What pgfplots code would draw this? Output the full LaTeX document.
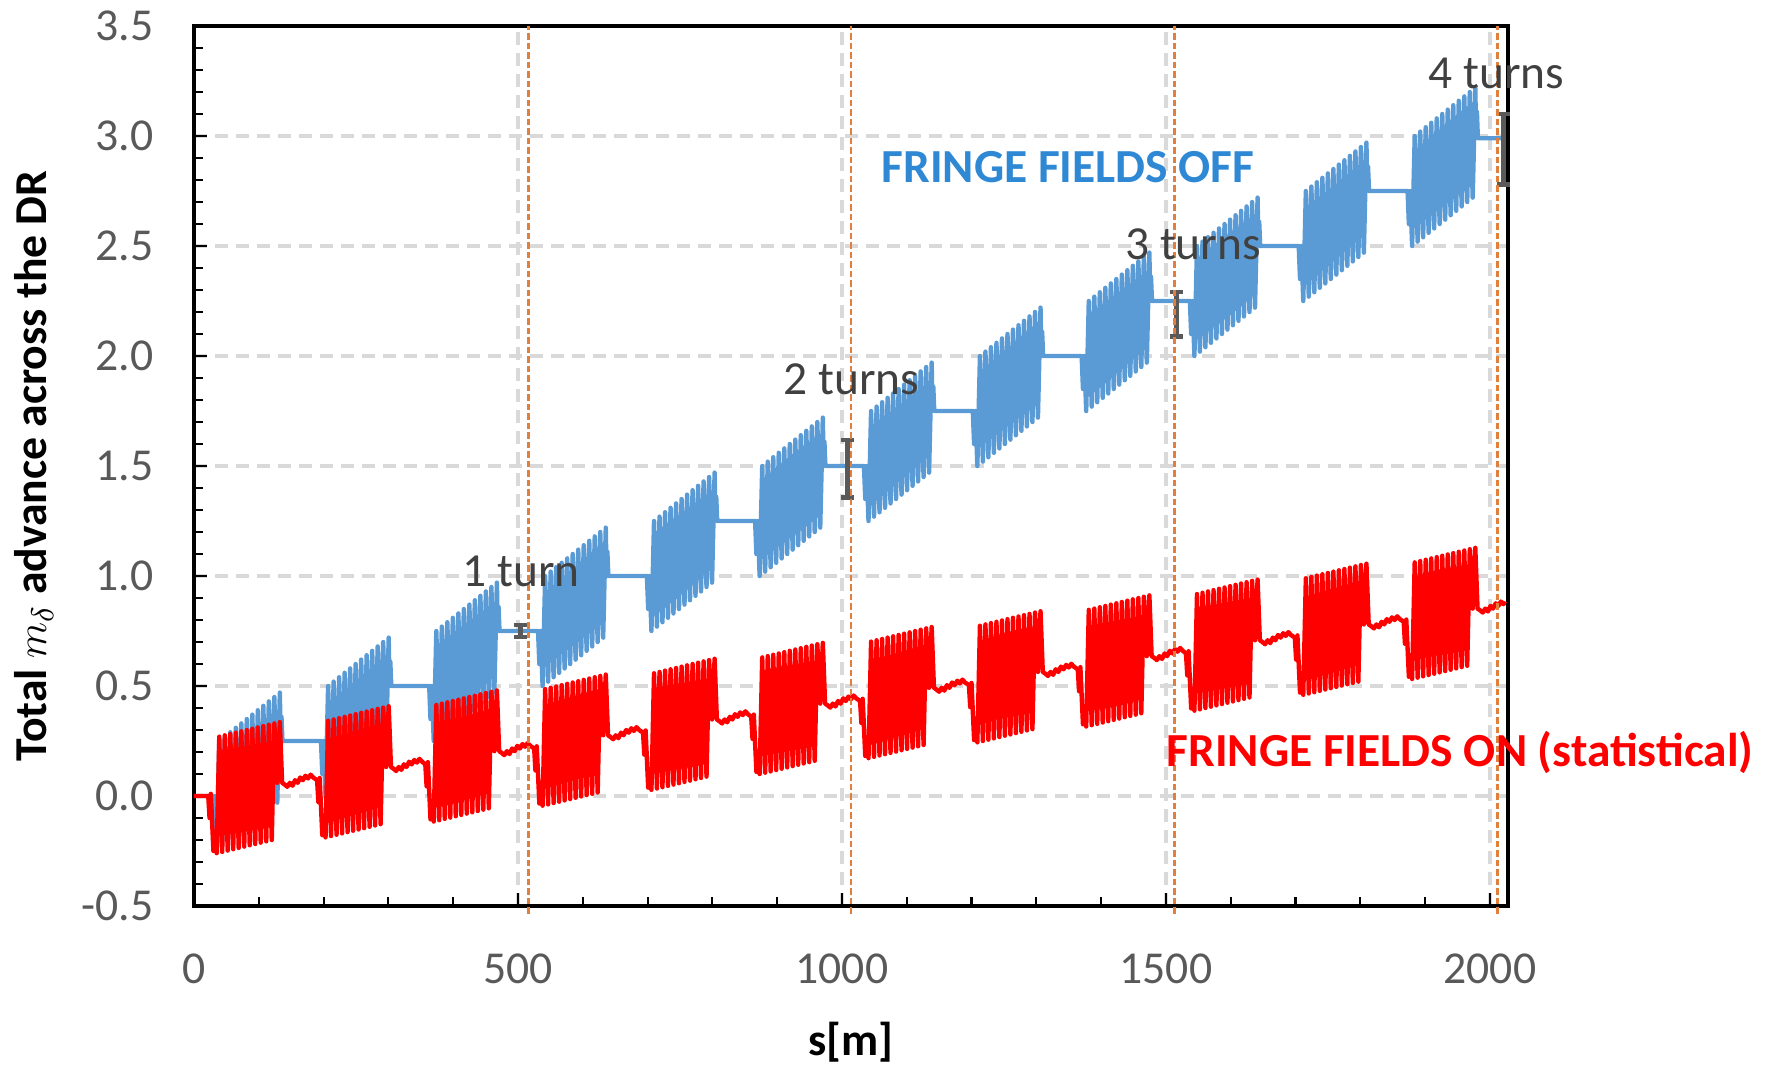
\documentclass[border=0pt]{standalone}
\usepackage{fontspec}
\setmainfont{Carlito}
\usepackage{pgfplots}
\pgfplotsset{compat=1.18}
\definecolor{offblue}{HTML}{5B9BD5}
\definecolor{offtext}{HTML}{2F88D4}
\definecolor{onred}{HTML}{FF0000}
\definecolor{gridgray}{HTML}{D9D9D9}
\definecolor{ticktext}{HTML}{595959}
\definecolor{annot}{HTML}{404040}
\definecolor{turnline}{HTML}{E0803C}
\definecolor{errgray}{HTML}{595959}

\begin{document}
\begin{tikzpicture}
\useasboundingbox (-1.94,-1.61) rectangle (15.73,9.06);
\begin{axis}[
  at={(0,0)}, anchor=south west,
  scale only axis, width=13.14cm, height=8.80cm,
  xmin=0, xmax=2028, ymin=-0.5, ymax=3.5,
  xtick={0,500,1000,1500,2000},
  xticklabels={0,500,1000,1500,2000},
  ytick={-0.5,0,0.5,1,1.5,2,2.5,3,3.5},
  yticklabels={-0.5,0.0,0.5,1.0,1.5,2.0,2.5,3.0,3.5},
  minor x tick num=4, minor y tick num=4,
  tick align=inside, tick pos=left,
  major tick length=0.13cm, minor tick length=0.09cm,
  every tick/.style={black, line width=0.6pt},
  axis line style={black, line width=1.1pt},
  grid=major,
  major grid style={gridgray, line width=1.3pt, dash pattern=on 0.13cm off 0.08cm},
  tick label style={font=\fontsize{13}{15}\selectfont, text=ticktext},
  yticklabel style={xshift=-0.28cm},
  xticklabel style={yshift=-0.35cm},
  xlabel={s[m]},
  ylabel={Total $m_\delta$ advance across the DR},
  label style={font=\fontsize{13}{15}\selectfont\bfseries, text=black},
  xlabel style={at={(axis description cs:0.5,-0.155)}, anchor=center},
  ylabel style={at={(axis description cs:-0.122,0.5)}, anchor=center},
  clip=false,
]

% fringe fields off
\addplot[offblue, line width=1.25pt, line join=round] coordinates {
(0,0)
(28,0) (30,-0.15) (32,0) (35,-0.25) (39,0.25) (43.5,-0.23) (47.5,0.27) (52,-0.21) (56,0.29) (60.5,-0.19) (64.5,0.31) (69,-0.17) (73,0.33) (77.5,-0.15) (81.5,0.35) (86,-0.13) (90,0.37) (94.5,-0.11) (98.5,0.39) (103,-0.09) (107,0.41) (111.5,-0.07) (115.5,0.43) (120,-0.05) (124,0.45) (128.5,-0.03) (132.5,0.47) (133.5,0.30) (135,0.36) (136.5,0.25)
(196,0.25) (198,0.10) (200,0.25) (203,0) (207,0.5) (211.5,0.02) (215.5,0.52) (220,0.04) (224,0.54) (228.5,0.06) (232.5,0.56) (237,0.08) (241,0.58) (245.5,0.10) (249.5,0.60) (254,0.12) (258,0.62) (262.5,0.14) (266.5,0.64) (271,0.16) (275,0.66) (279.5,0.18) (283.5,0.68) (288,0.20) (292,0.70) (296.5,0.22) (300.5,0.72) (301.5,0.55) (303,0.61) (304.5,0.50)
(363,0.5) (365,0.35) (367,0.5) (370,0.25) (374,0.75) (378.5,0.27) (382.5,0.77) (387,0.29) (391,0.79) (395.5,0.31) (399.5,0.81) (404,0.33) (408,0.83) (412.5,0.35) (416.5,0.85) (421,0.37) (425,0.87) (429.5,0.39) (433.5,0.89) (438,0.41) (442,0.91) (446.5,0.43) (450.5,0.93) (455,0.45) (459,0.95) (463.5,0.47) (467.5,0.97) (468.5,0.80) (470,0.86) (471.5,0.75)
(531,0.75) (533,0.60) (535,0.75) (538,0.50) (542,1.00) (546.5,0.52) (550.5,1.02) (555,0.54) (559,1.04) (563.5,0.56) (567.5,1.06) (572,0.58) (576,1.08) (580.5,0.60) (584.5,1.10) (589,0.62) (593,1.12) (597.5,0.64) (601.5,1.14) (606,0.66) (610,1.16) (614.5,0.68) (618.5,1.18) (623,0.70) (627,1.20) (631.5,0.72) (635.5,1.22) (636.5,1.05) (638,1.11) (639.5,1.00)
(699,1.0) (701,0.85) (703,1.0) (706,0.75) (710,1.25) (714.5,0.77) (718.5,1.27) (723,0.79) (727,1.29) (731.5,0.81) (735.5,1.31) (740,0.83) (744,1.33) (748.5,0.85) (752.5,1.35) (757,0.87) (761,1.37) (765.5,0.89) (769.5,1.39) (774,0.91) (778,1.41) (782.5,0.93) (786.5,1.43) (791,0.95) (795,1.45) (799.5,0.97) (803.5,1.47) (804.5,1.30) (806,1.36) (807.5,1.25)
(866,1.25) (868,1.10) (870,1.25) (873,1.00) (877,1.50) (881.5,1.02) (885.5,1.52) (890,1.04) (894,1.54) (898.5,1.06) (902.5,1.56) (907,1.08) (911,1.58) (915.5,1.10) (919.5,1.60) (924,1.12) (928,1.62) (932.5,1.14) (936.5,1.64) (941,1.16) (945,1.66) (949.5,1.18) (953.5,1.68) (958,1.20) (962,1.70) (966.5,1.22) (970.5,1.72) (971.5,1.55) (973,1.61) (974.5,1.50)
(1034,1.5) (1036,1.35) (1038,1.5) (1041,1.25) (1045,1.75) (1049.5,1.27) (1053.5,1.77) (1058,1.29) (1062,1.79) (1066.5,1.31) (1070.5,1.81) (1075,1.33) (1079,1.83) (1083.5,1.35) (1087.5,1.85) (1092,1.37) (1096,1.87) (1100.5,1.39) (1104.5,1.89) (1109,1.41) (1113,1.91) (1117.5,1.43) (1121.5,1.93) (1126,1.45) (1130,1.95) (1134.5,1.47) (1138.5,1.97) (1139.5,1.80) (1141,1.86) (1142.5,1.75)
(1202,1.75) (1204,1.60) (1206,1.75) (1209,1.50) (1213,2.00) (1217.5,1.52) (1221.5,2.02) (1226,1.54) (1230,2.04) (1234.5,1.56) (1238.5,2.06) (1243,1.58) (1247,2.08) (1251.5,1.60) (1255.5,2.10) (1260,1.62) (1264,2.12) (1268.5,1.64) (1272.5,2.14) (1277,1.66) (1281,2.16) (1285.5,1.68) (1289.5,2.18) (1294,1.70) (1298,2.20) (1302.5,1.72) (1306.5,2.22) (1307.5,2.05) (1309,2.11) (1310.5,2.00)
(1370,2.0) (1372,1.85) (1374,2.0) (1377,1.75) (1381,2.25) (1385.5,1.77) (1389.5,2.27) (1394,1.79) (1398,2.29) (1402.5,1.81) (1406.5,2.31) (1411,1.83) (1415,2.33) (1419.5,1.85) (1423.5,2.35) (1428,1.87) (1432,2.37) (1436.5,1.89) (1440.5,2.39) (1445,1.91) (1449,2.41) (1453.5,1.93) (1457.5,2.43) (1462,1.95) (1466,2.45) (1470.5,1.97) (1474.5,2.47) (1475.5,2.30) (1477,2.36) (1478.5,2.25)
(1537,2.25) (1539,2.10) (1541,2.25) (1544,2.00) (1548,2.50) (1552.5,2.02) (1556.5,2.52) (1561,2.04) (1565,2.54) (1569.5,2.06) (1573.5,2.56) (1578,2.08) (1582,2.58) (1586.5,2.10) (1590.5,2.60) (1595,2.12) (1599,2.62) (1603.5,2.14) (1607.5,2.64) (1612,2.16) (1616,2.66) (1620.5,2.18) (1624.5,2.68) (1629,2.20) (1633,2.70) (1637.5,2.22) (1641.5,2.72) (1642.5,2.55) (1644,2.61) (1645.5,2.50)
(1705,2.5) (1707,2.35) (1709,2.5) (1712,2.25) (1716,2.75) (1720.5,2.27) (1724.5,2.77) (1729,2.29) (1733,2.79) (1737.5,2.31) (1741.5,2.81) (1746,2.33) (1750,2.83) (1754.5,2.35) (1758.5,2.85) (1763,2.37) (1767,2.87) (1771.5,2.39) (1775.5,2.89) (1780,2.41) (1784,2.91) (1788.5,2.43) (1792.5,2.93) (1797,2.45) (1801,2.95) (1805.5,2.47) (1809.5,2.97) (1810.5,2.80) (1812,2.86) (1813.5,2.75)
(1873,2.75) (1875,2.60) (1877,2.75) (1880,2.50) (1884,3.00) (1888.5,2.52) (1892.5,3.02) (1897,2.54) (1901,3.04) (1905.5,2.56) (1909.5,3.06) (1914,2.58) (1918,3.08) (1922.5,2.60) (1926.5,3.10) (1931,2.62) (1935,3.12) (1939.5,2.64) (1943.5,3.14) (1948,2.66) (1952,3.16) (1956.5,2.68) (1960.5,3.18) (1965,2.70) (1969,3.20) (1973.5,2.72) (1977.5,3.22) (1978.5,3.05) (1980,3.11) (1981.5,2.99)
(2021,2.99)
};

% fringe fields on (statistical)
\addplot[onred, line width=1.25pt, line join=round] coordinates {
(0,0)
(22,0) (24,-0.10) (26,0.01) (30,-0.25) (32,-0.17) (35,-0.26) (39,0.27) (43.5,-0.254) (47.5,0.276) (52,-0.248) (56,0.282) (60.5,-0.242) (64.5,0.288) (69,-0.236) (73,0.294) (77.5,-0.23) (81.5,0.30) (86,-0.224) (90,0.306) (94.5,-0.218) (98.5,0.312) (103,-0.212) (107,0.318) (111.5,-0.206) (115.5,0.324) (120,-0.20) (124,0.33) (128.5,0.06) (132.5,0.336) (136,0.06)
(140,0.052) (144,0.042) (148,0.06) (152,0.047) (156,0.072) (160,0.06) (164,0.084) (168,0.072) (172,0.092) (176,0.08) (180,0.097) (184,0.084)
(190,0.072) (192,-0.028) (194,0.082) (198,-0.178) (200,-0.098) (203,-0.188) (207,0.342) (211.5,-0.182) (215.5,0.348) (220,-0.176) (224,0.354) (228.5,-0.17) (232.5,0.36) (237,-0.164) (241,0.366) (245.5,-0.158) (249.5,0.372) (254,-0.152) (258,0.378) (262.5,-0.146) (266.5,0.384) (271,-0.14) (275,0.39) (279.5,-0.134) (283.5,0.396) (288,-0.128) (292,0.402) (296.5,0.132) (300.5,0.408) (304,0.132)
(308,0.124) (312,0.114) (316,0.132) (320,0.119) (324,0.144) (328,0.132) (332,0.156) (336,0.144) (340,0.164) (344,0.152) (348,0.169) (352,0.156)
(357,0.144) (359,0.044) (361,0.154) (365,-0.106) (367,-0.026) (370,-0.116) (374,0.414) (378.5,-0.11) (382.5,0.42) (387,-0.104) (391,0.426) (395.5,-0.098) (399.5,0.432) (404,-0.092) (408,0.438) (412.5,-0.086) (416.5,0.444) (421,-0.08) (425,0.45) (429.5,-0.074) (433.5,0.456) (438,-0.068) (442,0.462) (446.5,-0.062) (450.5,0.468) (455,-0.056) (459,0.474) (463.5,0.204) (467.5,0.48) (471,0.204)
(475,0.196) (479,0.186) (483,0.204) (487,0.191) (491,0.216) (495,0.204) (499,0.228) (503,0.216) (507,0.236) (511,0.224) (515,0.241) (519,0.228)
(525,0.216) (527,0.116) (529,0.226) (533,-0.034) (535,0.046) (538,-0.044) (542,0.486) (546.5,-0.038) (550.5,0.492) (555,-0.032) (559,0.498) (563.5,-0.026) (567.5,0.504) (572,-0.02) (576,0.51) (580.5,-0.014) (584.5,0.516) (589,-0.008) (593,0.522) (597.5,-0.002) (601.5,0.528) (606,0.004) (610,0.534) (614.5,0.01) (618.5,0.54) (623,0.016) (627,0.546) (631.5,0.276) (635.5,0.552) (639,0.276)
(643,0.268) (647,0.258) (651,0.276) (655,0.263) (659,0.288) (663,0.276) (667,0.30) (671,0.288) (675,0.308) (679,0.296) (683,0.313) (687,0.30)
(693,0.288) (695,0.188) (697,0.298) (701,0.038) (703,0.118) (706,0.028) (710,0.558) (714.5,0.034) (718.5,0.564) (723,0.04) (727,0.57) (731.5,0.046) (735.5,0.576) (740,0.052) (744,0.582) (748.5,0.058) (752.5,0.588) (757,0.064) (761,0.594) (765.5,0.07) (769.5,0.60) (774,0.076) (778,0.606) (782.5,0.082) (786.5,0.612) (791,0.088) (795,0.618) (799.5,0.348) (803.5,0.624) (807,0.348)
(811,0.34) (815,0.33) (819,0.348) (823,0.335) (827,0.36) (831,0.348) (835,0.372) (839,0.36) (843,0.38) (847,0.368) (851,0.385) (855,0.372)
(860,0.36) (862,0.26) (864,0.37) (868,0.11) (870,0.19) (873,0.10) (877,0.63) (881.5,0.106) (885.5,0.636) (890,0.112) (894,0.642) (898.5,0.118) (902.5,0.648) (907,0.124) (911,0.654) (915.5,0.13) (919.5,0.66) (924,0.136) (928,0.666) (932.5,0.142) (936.5,0.672) (941,0.148) (945,0.678) (949.5,0.154) (953.5,0.684) (958,0.16) (962,0.69) (966.5,0.42) (970.5,0.696) (974,0.42)
(978,0.412) (982,0.402) (986,0.42) (990,0.407) (994,0.432) (998,0.42) (1002,0.444) (1006,0.432) (1010,0.452) (1014,0.44) (1018,0.457) (1022,0.444)
(1028,0.432) (1030,0.332) (1032,0.442) (1036,0.182) (1038,0.262) (1041,0.172) (1045,0.702) (1049.5,0.178) (1053.5,0.708) (1058,0.184) (1062,0.714) (1066.5,0.19) (1070.5,0.72) (1075,0.196) (1079,0.726) (1083.5,0.202) (1087.5,0.732) (1092,0.208) (1096,0.738) (1100.5,0.214) (1104.5,0.744) (1109,0.22) (1113,0.75) (1117.5,0.226) (1121.5,0.756) (1126,0.232) (1130,0.762) (1134.5,0.492) (1138.5,0.768) (1142,0.492)
(1146,0.484) (1150,0.474) (1154,0.492) (1158,0.479) (1162,0.504) (1166,0.492) (1170,0.516) (1174,0.504) (1178,0.524) (1182,0.512) (1186,0.529) (1190,0.516)
(1196,0.504) (1198,0.404) (1200,0.514) (1204,0.254) (1206,0.334) (1209,0.244) (1213,0.774) (1217.5,0.25) (1221.5,0.78) (1226,0.256) (1230,0.786) (1234.5,0.262) (1238.5,0.792) (1243,0.268) (1247,0.798) (1251.5,0.274) (1255.5,0.804) (1260,0.28) (1264,0.81) (1268.5,0.286) (1272.5,0.816) (1277,0.292) (1281,0.822) (1285.5,0.298) (1289.5,0.828) (1294,0.304) (1298,0.834) (1302.5,0.564) (1306.5,0.84) (1310,0.564)
(1314,0.556) (1318,0.546) (1322,0.564) (1326,0.551) (1330,0.576) (1334,0.564) (1338,0.588) (1342,0.576) (1346,0.596) (1350,0.584) (1354,0.601) (1358,0.588)
(1364,0.576) (1366,0.476) (1368,0.586) (1372,0.326) (1374,0.406) (1377,0.316) (1381,0.846) (1385.5,0.322) (1389.5,0.852) (1394,0.328) (1398,0.858) (1402.5,0.334) (1406.5,0.864) (1411,0.34) (1415,0.87) (1419.5,0.346) (1423.5,0.876) (1428,0.352) (1432,0.882) (1436.5,0.358) (1440.5,0.888) (1445,0.364) (1449,0.894) (1453.5,0.37) (1457.5,0.90) (1462,0.376) (1466,0.906) (1470.5,0.636) (1474.5,0.912) (1478,0.636)
(1482,0.628) (1486,0.618) (1490,0.636) (1494,0.623) (1498,0.648) (1502,0.636) (1506,0.66) (1510,0.648) (1514,0.668) (1518,0.656) (1522,0.673) (1526,0.66)
(1531,0.648) (1533,0.548) (1535,0.658) (1539,0.398) (1541,0.478) (1544,0.388) (1548,0.918) (1552.5,0.394) (1556.5,0.924) (1561,0.40) (1565,0.93) (1569.5,0.406) (1573.5,0.936) (1578,0.412) (1582,0.942) (1586.5,0.418) (1590.5,0.948) (1595,0.424) (1599,0.954) (1603.5,0.43) (1607.5,0.96) (1612,0.436) (1616,0.966) (1620.5,0.442) (1624.5,0.972) (1629,0.448) (1633,0.978) (1637.5,0.708) (1641.5,0.984) (1645,0.708)
(1649,0.70) (1653,0.69) (1657,0.708) (1661,0.695) (1665,0.72) (1669,0.708) (1673,0.732) (1677,0.72) (1681,0.74) (1685,0.728) (1689,0.745) (1693,0.732)
(1699,0.72) (1701,0.62) (1703,0.73) (1707,0.47) (1709,0.55) (1712,0.46) (1716,0.99) (1720.5,0.466) (1724.5,0.996) (1729,0.472) (1733,1.002) (1737.5,0.478) (1741.5,1.008) (1746,0.484) (1750,1.014) (1754.5,0.49) (1758.5,1.02) (1763,0.496) (1767,1.026) (1771.5,0.502) (1775.5,1.032) (1780,0.508) (1784,1.038) (1788.5,0.514) (1792.5,1.044) (1797,0.52) (1801,1.05) (1805.5,0.78) (1809.5,1.056) (1813,0.78)
(1817,0.772) (1821,0.762) (1825,0.78) (1829,0.767) (1833,0.792) (1837,0.78) (1841,0.804) (1845,0.792) (1849,0.812) (1853,0.80) (1857,0.817) (1861,0.804)
(1867,0.792) (1869,0.692) (1871,0.802) (1875,0.542) (1877,0.622) (1880,0.532) (1884,1.062) (1888.5,0.538) (1892.5,1.068) (1897,0.544) (1901,1.074) (1905.5,0.55) (1909.5,1.08) (1914,0.556) (1918,1.086) (1922.5,0.562) (1926.5,1.092) (1931,0.568) (1935,1.098) (1939.5,0.574) (1943.5,1.104) (1948,0.58) (1952,1.11) (1956.5,0.586) (1960.5,1.116) (1965,0.592) (1969,1.122) (1973.5,0.852) (1977.5,1.128) (1981,0.852)
(1985,0.844) (1989,0.834) (1993,0.852) (1997,0.839) (2001,0.864) (2005,0.852) (2009,0.876) (2013,0.864) (2017,0.884) (2021,0.872) (2023,0.885)
};

% spread after each turn
\addplot[draw=none, mark=none, forget plot,
  error bars/.cd, y dir=both, y explicit,
  error bar style={errgray, line width=1.3pt},
  error mark options={errgray, rotate=90, mark size=1.8pt, line width=1.3pt}]
  coordinates {
  (504,0.75) +- (0,0.027)
  (1009,1.487) +- (0,0.131)
  (1516,2.19) +- (0,0.102)
  (2021,2.94) +- (0,0.16)
};

% turn boundaries
\addplot[turnline, line width=0.7pt, dash pattern=on 0.65mm off 0.3mm] coordinates {(516,-0.535) (516,3.5)};
\addplot[turnline, line width=0.7pt, dash pattern=on 0.65mm off 0.3mm] coordinates {(1014,-0.535) (1014,3.5)};
\addplot[turnline, line width=0.7pt, dash pattern=on 0.65mm off 0.3mm] coordinates {(1513,-0.535) (1513,3.5)};
\addplot[turnline, line width=0.7pt, dash pattern=on 0.65mm off 0.3mm] coordinates {(2012,-0.535) (2012,3.5)};

\node[anchor=base, text=annot, font=\fontsize{13.5}{16}\selectfont] at (axis cs:505,0.951) {1 turn};
\node[anchor=base, text=annot, font=\fontsize{13.5}{16}\selectfont] at (axis cs:1015,1.823) {2 turns};
\node[anchor=base, text=annot, font=\fontsize{13.5}{16}\selectfont] at (axis cs:1542,2.44) {3 turns};
\node[anchor=base, text=annot, font=\fontsize{13.5}{16}\selectfont] at (axis cs:2010,3.214) {4 turns};
\node[anchor=base, text=offtext, font=\fontsize{13.5}{16}\selectfont\bfseries] at (axis cs:1349,2.788) {FRINGE FIELDS OFF};
\node[anchor=base, text=onred, font=\fontsize{13.5}{16}\selectfont\bfseries] at (axis cs:1954,0.136) {FRINGE FIELDS ON (statistical)};
\end{axis}
\end{tikzpicture}
\end{document}
